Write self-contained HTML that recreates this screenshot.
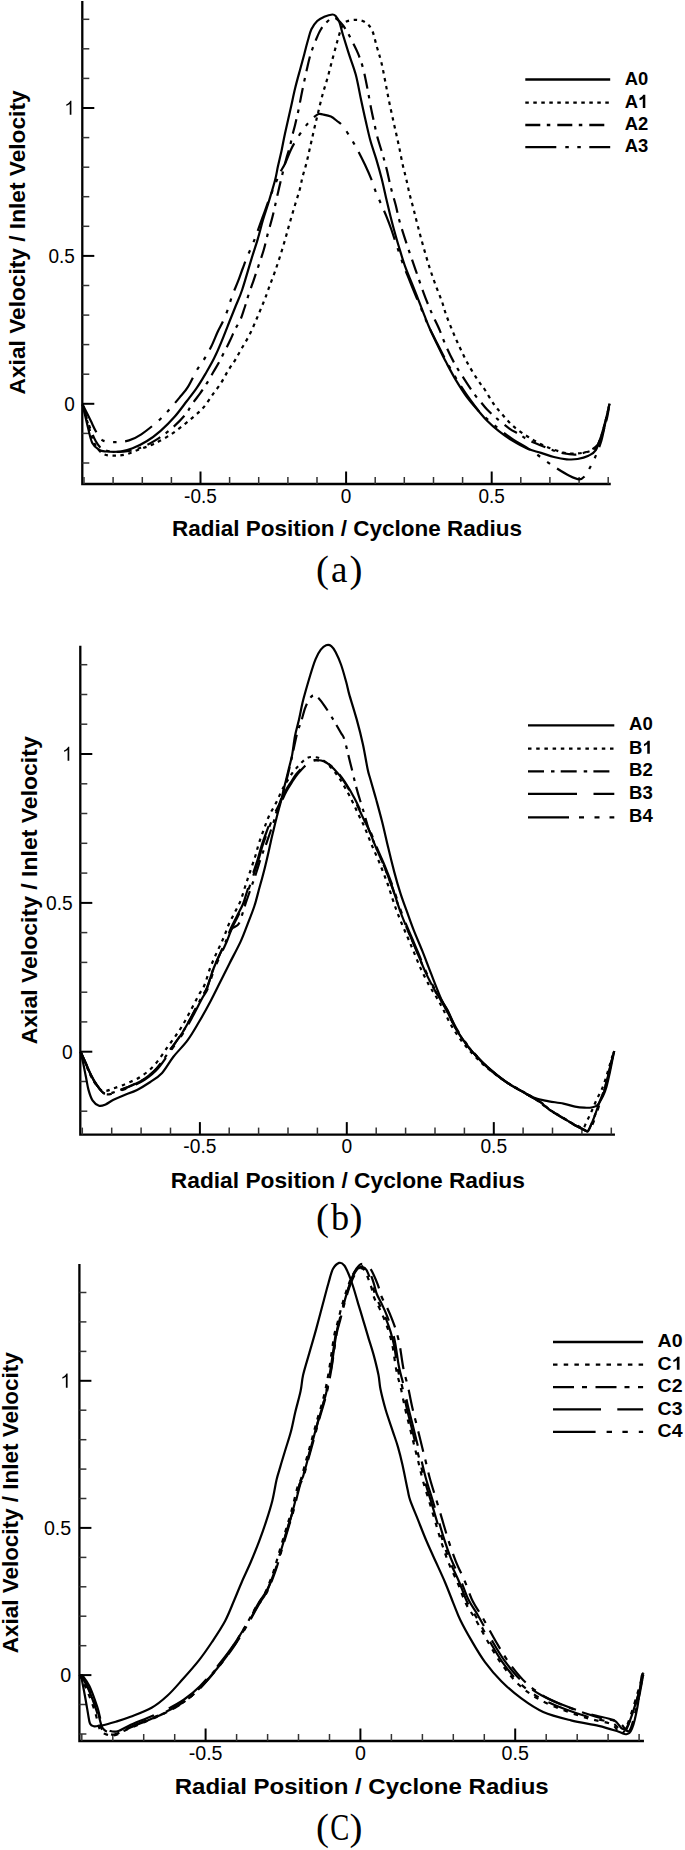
<!DOCTYPE html>
<html><head><meta charset="utf-8"><title>Axial velocity profiles</title>
<style>
html,body{margin:0;padding:0;background:#fff;}
body{width:685px;height:1850px;overflow:hidden;}
svg{display:block;}
</style></head><body>
<svg width="685" height="1850" viewBox="0 0 685 1850">
<rect width="685" height="1850" fill="#fff"/>
<path d="M82.3,2.2 L82.3,484.0 L609.6,484.0" fill="none" stroke="#000" stroke-width="2.3" stroke-linecap="square"/>
<line x1="82.3" y1="403.8" x2="94.3" y2="403.8" stroke="#000" stroke-width="2"/>
<line x1="82.3" y1="255.9" x2="94.3" y2="255.9" stroke="#000" stroke-width="2"/>
<line x1="82.3" y1="108.0" x2="94.3" y2="108.0" stroke="#000" stroke-width="2"/>
<line x1="82.3" y1="463.0" x2="89.3" y2="463.0" stroke="#333" stroke-width="1.5"/>
<line x1="82.3" y1="433.4" x2="89.3" y2="433.4" stroke="#333" stroke-width="1.5"/>
<line x1="82.3" y1="374.2" x2="89.3" y2="374.2" stroke="#333" stroke-width="1.5"/>
<line x1="82.3" y1="344.6" x2="89.3" y2="344.6" stroke="#333" stroke-width="1.5"/>
<line x1="82.3" y1="315.1" x2="89.3" y2="315.1" stroke="#333" stroke-width="1.5"/>
<line x1="82.3" y1="285.5" x2="89.3" y2="285.5" stroke="#333" stroke-width="1.5"/>
<line x1="82.3" y1="226.3" x2="89.3" y2="226.3" stroke="#333" stroke-width="1.5"/>
<line x1="82.3" y1="196.7" x2="89.3" y2="196.7" stroke="#333" stroke-width="1.5"/>
<line x1="82.3" y1="167.2" x2="89.3" y2="167.2" stroke="#333" stroke-width="1.5"/>
<line x1="82.3" y1="137.6" x2="89.3" y2="137.6" stroke="#333" stroke-width="1.5"/>
<line x1="82.3" y1="78.4" x2="89.3" y2="78.4" stroke="#333" stroke-width="1.5"/>
<line x1="82.3" y1="48.8" x2="89.3" y2="48.8" stroke="#333" stroke-width="1.5"/>
<line x1="82.3" y1="19.3" x2="89.3" y2="19.3" stroke="#333" stroke-width="1.5"/>
<line x1="200.5" y1="484.0" x2="200.5" y2="471.5" stroke="#000" stroke-width="2"/>
<line x1="346.1" y1="484.0" x2="346.1" y2="471.5" stroke="#000" stroke-width="2"/>
<line x1="491.7" y1="484.0" x2="491.7" y2="471.5" stroke="#000" stroke-width="2"/>
<line x1="84.0" y1="484.0" x2="84.0" y2="477.0" stroke="#333" stroke-width="1.5"/>
<line x1="113.1" y1="484.0" x2="113.1" y2="477.0" stroke="#333" stroke-width="1.5"/>
<line x1="142.3" y1="484.0" x2="142.3" y2="477.0" stroke="#333" stroke-width="1.5"/>
<line x1="171.4" y1="484.0" x2="171.4" y2="477.0" stroke="#333" stroke-width="1.5"/>
<line x1="229.6" y1="484.0" x2="229.6" y2="477.0" stroke="#333" stroke-width="1.5"/>
<line x1="258.7" y1="484.0" x2="258.7" y2="477.0" stroke="#333" stroke-width="1.5"/>
<line x1="287.9" y1="484.0" x2="287.9" y2="477.0" stroke="#333" stroke-width="1.5"/>
<line x1="317.0" y1="484.0" x2="317.0" y2="477.0" stroke="#333" stroke-width="1.5"/>
<line x1="375.2" y1="484.0" x2="375.2" y2="477.0" stroke="#333" stroke-width="1.5"/>
<line x1="404.3" y1="484.0" x2="404.3" y2="477.0" stroke="#333" stroke-width="1.5"/>
<line x1="433.5" y1="484.0" x2="433.5" y2="477.0" stroke="#333" stroke-width="1.5"/>
<line x1="462.6" y1="484.0" x2="462.6" y2="477.0" stroke="#333" stroke-width="1.5"/>
<line x1="520.8" y1="484.0" x2="520.8" y2="477.0" stroke="#333" stroke-width="1.5"/>
<line x1="549.9" y1="484.0" x2="549.9" y2="477.0" stroke="#333" stroke-width="1.5"/>
<line x1="579.1" y1="484.0" x2="579.1" y2="477.0" stroke="#333" stroke-width="1.5"/>
<line x1="608.2" y1="484.0" x2="608.2" y2="477.0" stroke="#333" stroke-width="1.5"/>
<text x="74.9" y="410.7" font-family='"Liberation Sans", sans-serif' font-size="19.6" text-anchor="end" transform="translate(74.9,0) scale(0.9700,1) translate(-74.9,0)">0</text>
<text x="74.9" y="262.8" font-family='"Liberation Sans", sans-serif' font-size="19.6" text-anchor="end" transform="translate(74.9,0) scale(0.9700,1) translate(-74.9,0)">0.5</text>
<path d="M763,0 H583 V1147 Q518,1085 412,1023 Q306,961 222,930 V1104 Q373,1175 486,1276 Q599,1377 646,1472 H763 Z" fill="#000" transform="translate(64.33,114.86) scale(0.00928,-0.00957)"/>
<text x="200.5" y="502.6" font-family='"Liberation Sans", sans-serif' font-size="19.6" text-anchor="middle" transform="translate(200.5,0) scale(0.9700,1) translate(-200.5,0)">-0.5</text>
<text x="346.1" y="502.6" font-family='"Liberation Sans", sans-serif' font-size="19.6" text-anchor="middle" transform="translate(346.1,0) scale(0.9700,1) translate(-346.1,0)">0</text>
<text x="491.7" y="502.6" font-family='"Liberation Sans", sans-serif' font-size="19.6" text-anchor="middle" transform="translate(491.7,0) scale(0.9700,1) translate(-491.7,0)">0.5</text>
<text x="347.0" y="536.2" font-family='"Liberation Sans", sans-serif' font-weight="bold" font-size="22.4" text-anchor="middle" textLength="350.0" lengthAdjust="spacingAndGlyphs">Radial Position / Cyclone Radius</text>
<text x="0" y="0" font-family='"Liberation Sans", sans-serif' font-weight="bold" font-size="22.4" text-anchor="middle" textLength="304.0" lengthAdjust="spacingAndGlyphs" transform="translate(25.0,242.4) rotate(-90)">Axial Velocity / Inlet Velocity</text>
<path d="M82.6,404.5 C83.5,408.3 86.3,420.9 87.9,427.3 C89.5,433.7 90.4,439.2 92.3,443.0 C94.2,446.8 97.0,448.6 99.3,450.0 C101.6,451.4 102.8,451.2 106.3,451.5 C109.8,451.8 115.9,452.0 120.3,451.5 C124.7,451.0 128.2,450.0 132.6,448.3 C137.0,446.6 141.9,444.2 146.6,441.3 C151.3,438.4 155.9,434.9 160.6,430.8 C165.3,426.7 170.2,421.8 174.6,416.8 C179.0,411.8 183.2,405.8 186.9,401.0 C190.6,396.2 193.5,392.6 196.6,388.1 C199.7,383.6 202.4,379.1 205.3,374.1 C208.2,369.1 211.5,363.6 214.1,358.3 C216.7,353.1 218.8,348.2 221.1,342.6 C223.4,337.1 225.8,330.9 228.1,325.0 C230.4,319.1 232.8,313.3 235.1,307.5 C237.4,301.7 239.4,298.1 242.1,290.0 C244.8,281.9 248.9,267.2 251.5,258.8 C254.1,250.4 255.7,246.0 257.6,239.6 C259.5,233.2 261.0,226.7 262.9,220.3 C264.8,213.9 267.0,207.7 269.0,201.0 C271.0,194.3 273.6,185.8 275.1,180.0 C276.6,174.2 276.9,170.9 278.0,166.1 C279.1,161.2 280.3,156.3 281.5,150.9 C282.7,145.5 283.5,140.2 285.0,133.4 C286.5,126.6 288.6,117.4 290.3,110.0 C292.0,102.6 293.4,95.5 295.0,88.8 C296.6,82.1 298.4,75.8 300.0,70.0 C301.6,64.2 303.1,58.7 304.4,53.7 C305.7,48.7 306.8,44.1 308.0,40.0 C309.2,35.9 309.9,32.4 311.4,29.2 C312.9,26.0 315.1,23.1 317.2,21.0 C319.3,18.9 321.7,17.9 324.2,16.8 C326.7,15.7 330.4,14.6 332.4,14.5 C334.4,14.4 334.8,15.1 336.0,16.4 C337.2,17.7 338.2,19.1 339.4,22.2 C340.6,25.3 341.4,29.8 343.0,35.0 C344.6,40.2 346.7,47.1 348.8,53.7 C350.9,60.3 353.8,67.2 355.8,74.8 C357.8,82.3 359.3,91.5 360.9,99.0 C362.5,106.5 363.9,113.1 365.5,120.0 C367.1,126.9 368.5,133.7 370.3,140.3 C372.1,146.9 374.5,153.2 376.4,159.6 C378.3,166.0 380.1,172.4 381.7,178.8 C383.3,185.2 384.7,191.9 386.1,198.1 C387.6,204.3 389.1,210.8 390.4,216.0 C391.7,221.2 392.4,223.9 393.8,229.0 C395.2,234.1 397.0,240.6 398.9,246.8 C400.8,253.0 402.8,260.0 405.0,266.1 C407.2,272.2 409.8,278.1 412.0,283.6 C414.2,289.1 416.1,294.1 418.2,299.3 C420.2,304.6 422.4,310.3 424.3,315.1 C426.2,319.9 427.3,323.0 429.5,328.0 C431.7,333.0 434.7,339.2 437.5,345.0 C440.3,350.8 443.2,356.8 446.3,362.6 C449.4,368.5 452.4,374.3 455.9,380.1 C459.4,385.9 463.6,392.6 467.3,397.6 C471.0,402.6 474.6,406.4 477.9,410.2 C481.2,414.0 483.6,417.2 487.1,420.7 C490.6,424.2 494.8,427.9 498.9,431.2 C503.0,434.5 507.4,437.5 512.0,440.4 C516.6,443.2 521.7,446.2 526.5,448.3 C531.3,450.4 536.4,451.4 541.0,452.9 C545.6,454.3 549.6,455.9 553.9,457.0 C558.2,458.1 562.6,459.0 566.6,459.3 C570.6,459.6 574.0,459.6 577.6,459.0 C581.2,458.4 585.5,457.2 588.5,455.7 C591.5,454.2 593.7,453.5 595.8,450.2 C597.9,446.9 599.6,440.8 601.3,435.6 C603.0,430.4 604.5,424.5 605.9,419.2 C607.3,413.9 608.9,406.3 609.5,403.7" fill="none" stroke="#000" stroke-width="2.2" stroke-linejoin="round"/>
<path d="M82.6,404.5 C83.5,407.8 86.3,418.1 88.0,424.0 C89.7,429.9 91.3,435.8 93.0,440.0 C94.7,444.2 96.1,446.6 98.0,449.0 C99.9,451.4 101.7,453.4 104.5,454.5 C107.3,455.6 111.5,455.7 115.0,455.7 C118.5,455.7 121.7,455.4 125.5,454.5 C129.3,453.6 133.1,451.8 137.8,450.0 C142.5,448.2 148.1,446.6 153.6,444.0 C159.1,441.4 165.8,437.7 171.1,434.3 C176.3,430.9 181.0,427.0 185.1,423.8 C189.2,420.6 192.5,417.7 195.6,415.0 C198.7,412.3 200.8,410.7 203.6,407.4 C206.4,404.1 209.4,399.2 212.3,395.1 C215.2,391.0 218.5,387.0 221.1,382.9 C223.7,378.8 225.8,374.4 228.1,370.6 C230.4,366.8 232.8,363.9 235.1,360.1 C237.4,356.3 239.6,352.2 242.1,347.8 C244.6,343.4 247.5,338.8 250.0,333.8 C252.5,328.8 255.0,322.6 257.0,318.0 C259.0,313.4 260.6,309.4 262.0,306.0 C263.4,302.6 264.2,300.9 265.5,297.4 C266.8,293.9 268.3,289.5 269.9,285.1 C271.5,280.7 273.4,276.1 275.1,271.1 C276.9,266.1 278.6,260.9 280.4,255.3 C282.1,249.8 284.0,243.4 285.6,237.8 C287.2,232.2 288.4,227.5 290.0,222.0 C291.6,216.5 293.4,210.3 295.0,205.0 C296.6,199.7 298.3,194.7 299.6,190.0 C300.9,185.3 301.5,180.8 302.6,176.6 C303.7,172.4 304.9,169.0 306.0,164.9 C307.1,160.8 308.0,156.3 309.0,152.0 C310.0,147.7 310.9,143.6 311.9,139.2 C312.9,134.8 313.9,130.2 315.0,125.5 C316.1,120.8 317.2,116.4 318.5,111.0 C319.8,105.6 321.4,98.7 323.0,93.0 C324.6,87.3 326.2,82.7 327.8,77.0 C329.4,71.3 330.9,64.8 332.5,59.0 C334.1,53.2 335.6,47.3 337.1,42.0 C338.7,36.7 340.2,30.4 341.8,27.0 C343.4,23.6 344.1,22.7 346.4,21.5 C348.7,20.3 352.7,19.8 355.8,19.9 C358.9,20.0 362.4,20.4 365.1,22.2 C367.8,23.9 370.2,26.3 372.1,30.4 C374.1,34.5 375.2,41.3 376.8,46.7 C378.4,52.1 379.9,56.4 381.5,63.0 C383.1,69.6 384.9,80.1 386.2,86.4 C387.4,92.7 388.0,96.1 389.0,101.0 C390.0,105.9 391.1,110.7 392.2,115.8 C393.3,120.9 394.5,126.2 395.7,131.5 C396.9,136.8 398.0,141.8 399.2,147.3 C400.4,152.9 401.5,159.6 402.7,164.8 C403.9,170.1 405.0,173.8 406.2,178.8 C407.4,183.8 408.4,189.4 409.7,194.6 C411.0,199.8 412.4,204.5 413.8,210.0 C415.2,215.5 416.6,221.4 418.2,227.5 C419.8,233.6 421.5,240.1 423.4,246.8 C425.3,253.5 427.6,261.4 429.6,267.8 C431.7,274.2 433.7,279.8 435.7,285.3 C437.7,290.9 440.0,296.1 441.8,301.1 C443.6,306.1 444.4,310.0 446.3,315.3 C448.2,320.6 451.0,327.3 453.3,332.8 C455.6,338.3 457.8,343.2 460.3,348.5 C462.8,353.8 465.3,359.0 468.2,364.3 C471.1,369.6 475.0,375.8 477.8,380.1 C480.6,384.4 482.4,386.0 485.0,390.0 C487.6,394.0 490.9,400.1 493.7,404.0 C496.4,407.9 498.9,410.4 501.5,413.5 C504.1,416.6 506.8,419.8 509.4,422.5 C512.0,425.2 514.1,427.1 517.3,429.5 C520.4,431.9 523.7,434.2 528.3,437.0 C532.9,439.8 538.9,443.4 544.7,446.0 C550.5,448.6 558.1,451.2 563.0,452.5 C567.9,453.8 569.9,453.7 573.9,453.6 C577.9,453.5 583.1,453.0 586.7,452.0 C590.4,451.0 593.4,450.0 595.8,447.5 C598.2,445.0 599.5,440.8 601.0,437.0 C602.5,433.2 603.2,429.8 604.5,425.0 C605.8,420.2 607.8,411.8 608.6,408.2 C609.4,404.6 609.4,404.4 609.5,403.7" fill="none" stroke="#000" stroke-width="2.2" stroke-linejoin="round" stroke-dasharray="3.5 4.5"/>
<path d="M82.6,404.5 C83.7,407.9 86.8,418.9 89.0,425.0 C91.2,431.1 93.5,437.3 95.8,441.3 C98.1,445.3 99.6,447.4 102.8,449.2 C106.0,450.9 110.6,451.5 115.0,451.8 C119.4,452.1 124.6,451.7 129.0,451.0 C133.4,450.3 136.9,449.2 141.3,447.4 C145.7,445.6 150.3,443.5 155.3,440.4 C160.3,437.3 166.1,433.2 171.1,429.0 C176.1,424.8 181.6,419.2 185.1,415.0 C188.6,410.8 189.7,407.5 192.2,403.9 C194.7,400.3 197.6,396.9 200.1,393.4 C202.6,389.9 204.9,386.4 207.1,382.9 C209.3,379.4 211.2,375.8 213.2,372.3 C215.2,368.8 217.4,365.3 219.3,361.8 C221.2,358.3 222.8,354.8 224.6,351.3 C226.4,347.8 228.2,344.5 229.9,340.8 C231.7,337.1 233.3,332.9 235.1,329.4 C236.8,325.9 238.8,323.4 240.4,319.8 C242.0,316.2 243.2,311.9 244.5,308.0 C245.8,304.1 246.6,300.9 248.0,296.5 C249.4,292.1 251.4,286.7 253.2,281.6 C254.9,276.5 256.8,271.1 258.5,265.8 C260.2,260.5 262.1,255.5 263.7,250.0 C265.3,244.5 266.6,238.1 268.1,232.6 C269.6,227.1 271.0,222.7 272.5,216.8 C274.0,211.0 275.4,204.0 276.9,197.5 C278.4,191.0 279.9,184.1 281.5,177.7 C283.1,171.3 284.8,164.1 286.2,159.0 C287.6,153.9 288.6,151.5 289.7,147.4 C290.8,143.3 291.7,138.2 292.6,134.5 C293.5,130.8 294.0,129.3 295.0,125.2 C296.0,121.1 297.3,115.5 298.5,110.0 C299.7,104.5 300.6,98.7 302.0,92.0 C303.4,85.3 305.2,76.5 306.7,70.0 C308.2,63.5 309.4,58.0 311.0,53.0 C312.6,48.0 314.4,43.5 316.0,39.7 C317.6,35.9 318.9,32.7 320.5,30.0 C322.1,27.3 323.2,25.5 325.4,23.4 C327.6,21.3 331.1,17.6 333.6,17.5 C336.1,17.4 338.5,20.4 340.6,22.5 C342.7,24.6 344.5,27.3 346.4,30.4 C348.3,33.5 350.1,37.1 352.0,41.0 C353.9,44.9 356.3,49.2 358.1,53.7 C359.9,58.2 361.4,62.0 363.0,68.0 C364.6,74.0 366.4,83.3 367.7,90.0 C369.0,96.7 369.9,102.7 371.0,108.0 C372.1,113.3 372.9,117.2 374.0,122.0 C375.1,126.8 375.9,131.4 377.3,136.8 C378.7,142.2 381.0,148.8 382.6,154.3 C384.2,159.9 385.4,164.3 386.9,170.1 C388.3,175.9 389.8,183.5 391.3,189.3 C392.8,195.1 394.4,200.0 395.7,205.1 C397.0,210.2 397.8,214.8 399.2,220.0 C400.6,225.2 402.2,230.1 404.2,236.3 C406.2,242.5 409.0,250.9 411.2,257.3 C413.4,263.7 415.3,269.0 417.3,274.8 C419.3,280.6 421.3,286.8 423.4,292.3 C425.4,297.9 427.8,303.8 429.6,308.1 C431.4,312.4 432.4,314.5 434.0,318.0 C435.6,321.5 437.2,324.5 439.3,329.3 C441.4,334.1 443.7,341.0 446.3,346.8 C448.9,352.6 452.1,359.1 455.0,364.3 C457.9,369.6 460.6,373.3 463.8,378.3 C467.0,383.3 471.5,390.2 474.3,394.1 C477.1,398.0 478.4,399.1 480.5,401.7 C482.6,404.3 484.6,407.0 487.1,409.6 C489.6,412.2 491.9,414.3 495.6,417.5 C499.3,420.7 505.6,425.9 509.4,428.6 C513.2,431.3 515.5,432.0 518.6,433.9 C521.7,435.8 524.0,437.8 527.8,439.8 C531.6,441.8 536.8,443.8 541.6,445.7 C546.4,447.6 552.3,450.1 556.7,451.5 C561.1,452.9 564.6,453.5 568.0,454.0 C571.4,454.5 573.6,455.0 577.0,454.5 C580.4,454.0 585.0,452.7 588.5,451.1 C592.0,449.5 595.3,447.9 597.7,444.7 C600.1,441.5 601.5,436.4 603.0,432.0 C604.5,427.6 605.9,422.7 607.0,418.0 C608.1,413.3 609.1,406.1 609.5,403.7" fill="none" stroke="#000" stroke-width="2.2" stroke-linejoin="round" stroke-dasharray="15 6.5 3.5 7"/>
<path d="M82.6,404.5 C83.9,407.1 88.2,415.6 90.5,420.3 C92.8,425.0 94.5,429.2 96.6,432.6 C98.6,436.0 99.7,438.8 102.8,440.4 C105.9,442.0 110.6,442.2 115.0,442.2 C119.4,442.2 124.6,441.7 129.0,440.4 C133.4,439.1 136.6,437.4 141.3,434.3 C146.0,431.2 152.7,425.8 157.1,422.0 C161.5,418.2 163.9,415.6 167.6,411.5 C171.3,407.4 176.1,401.7 179.5,397.6 C182.9,393.6 185.0,391.7 187.8,387.2 C190.7,382.7 193.7,375.6 196.6,370.6 C199.5,365.6 202.8,361.5 205.3,357.4 C207.8,353.3 209.4,350.2 211.5,346.0 C213.6,341.8 215.7,336.1 217.6,332.0 C219.5,327.9 221.2,325.3 222.9,321.5 C224.6,317.7 226.4,313.3 228.0,309.0 C229.6,304.7 230.5,300.3 232.2,295.6 C233.9,290.9 236.6,285.2 238.3,280.7 C240.1,276.2 241.2,272.4 242.7,268.5 C244.2,264.6 245.3,261.2 247.1,257.0 C248.8,252.8 251.2,248.1 253.2,243.0 C255.2,237.9 257.4,231.6 259.3,226.4 C261.2,221.2 262.7,216.9 264.5,212.0 C266.3,207.1 267.9,202.3 270.0,197.0 C272.1,191.7 275.2,184.2 276.9,180.0 C278.6,175.8 279.0,174.6 280.4,171.9 C281.8,169.2 283.2,167.4 285.0,163.7 C286.8,160.0 288.9,153.8 290.9,149.7 C292.8,145.6 294.6,142.7 296.7,139.2 C298.8,135.7 301.8,131.4 303.7,128.7 C305.6,126.0 306.8,124.6 308.4,122.8 C309.9,121.0 311.3,119.5 313.0,118.0 C314.7,116.5 316.7,114.6 318.4,114.0 C320.1,113.4 320.9,114.1 323.0,114.5 C325.1,114.9 328.6,115.5 330.9,116.6 C333.2,117.7 335.0,119.4 337.0,121.0 C339.0,122.6 340.8,123.4 343.1,126.3 C345.4,129.2 348.5,134.4 351.0,138.5 C353.5,142.6 355.7,146.4 358.0,150.8 C360.3,155.2 362.8,160.1 365.0,164.8 C367.2,169.5 369.4,174.4 371.2,178.8 C372.9,183.2 373.9,187.0 375.5,191.1 C377.1,195.2 379.0,199.3 380.8,203.4 C382.6,207.5 384.4,211.4 386.1,215.6 C387.8,219.8 389.3,223.6 391.0,228.5 C392.7,233.4 394.5,239.1 396.5,245.0 C398.5,250.9 400.8,257.9 403.0,264.0 C405.2,270.1 407.8,275.9 410.0,281.5 C412.2,287.1 414.3,292.2 416.5,297.5 C418.7,302.8 421.0,308.2 423.0,313.0 C425.0,317.8 426.1,320.8 428.5,326.0 C430.9,331.2 434.5,338.1 437.5,344.0 C440.5,349.9 443.3,355.7 446.5,361.5 C449.7,367.3 453.0,373.2 456.5,379.0 C460.0,384.8 463.6,390.5 467.5,396.0 C471.4,401.5 475.9,407.8 479.6,412.0 C483.4,416.2 486.4,418.4 490.0,421.5 C493.6,424.6 497.1,427.4 501.0,430.5 C504.9,433.6 509.5,437.2 513.7,440.0 C518.0,442.8 522.4,444.9 526.5,447.5 C530.6,450.1 533.8,452.3 538.4,455.5 C543.0,458.7 548.7,463.1 553.9,466.5 C559.1,469.9 565.1,473.7 569.4,475.8 C573.6,477.9 576.8,479.4 579.4,479.4 C582.0,479.4 583.5,477.5 585.0,476.0 C586.5,474.5 586.8,473.4 588.5,470.3 C590.2,467.2 592.9,462.4 595.0,457.5 C597.1,452.6 599.5,446.9 601.3,441.0 C603.0,435.1 604.1,428.2 605.5,422.0 C606.9,415.8 608.8,406.8 609.5,403.7" fill="none" stroke="#000" stroke-width="2.2" stroke-linejoin="round" stroke-dasharray="31 9 3.5 8.5 3.5 8.5"/>
<line x1="525.3" y1="79.5" x2="610.2" y2="79.5" stroke="#000" stroke-width="2.3"/>
<text x="624.7" y="84.7" font-family='"Liberation Sans", sans-serif' font-weight="bold" font-size="18.4" transform="translate(624.7,0) scale(1.0000,1) translate(-624.7,0)">A</text>
<text x="638.0" y="84.7" font-family='"Liberation Sans", sans-serif' font-weight="bold" font-size="18.4" transform="translate(638.0,0) scale(1.0000,1) translate(-638.0,0)">0</text>
<line x1="525.3" y1="102.7" x2="610.2" y2="102.7" stroke="#000" stroke-width="2.3" stroke-dasharray="3.5 4.5"/>
<text x="624.7" y="107.9" font-family='"Liberation Sans", sans-serif' font-weight="bold" font-size="18.4" transform="translate(624.7,0) scale(1.0000,1) translate(-624.7,0)">A</text>
<path d="M815,0 H534 V1059 Q380,915 171,846 V1101 Q281,1137 410,1237 Q539,1337 587,1466 H815 Z" fill="#000" transform="translate(637.99,107.90) scale(0.00898,-0.00898)"/>
<line x1="525.3" y1="125.0" x2="610.2" y2="125.0" stroke="#000" stroke-width="2.3" stroke-dasharray="15 6.5 3.5 7"/>
<text x="624.7" y="130.2" font-family='"Liberation Sans", sans-serif' font-weight="bold" font-size="18.4" transform="translate(624.7,0) scale(1.0000,1) translate(-624.7,0)">A</text>
<text x="638.0" y="130.2" font-family='"Liberation Sans", sans-serif' font-weight="bold" font-size="18.4" transform="translate(638.0,0) scale(1.0000,1) translate(-638.0,0)">2</text>
<line x1="525.3" y1="147.2" x2="610.2" y2="147.2" stroke="#000" stroke-width="2.3" stroke-dasharray="31 9 3.5 8.5 3.5 8.5"/>
<text x="624.7" y="152.4" font-family='"Liberation Sans", sans-serif' font-weight="bold" font-size="18.4" transform="translate(624.7,0) scale(1.0000,1) translate(-624.7,0)">A</text>
<text x="638.0" y="152.4" font-family='"Liberation Sans", sans-serif' font-weight="bold" font-size="18.4" transform="translate(638.0,0) scale(1.0000,1) translate(-638.0,0)">3</text>
<text x="0" y="0" font-family='"Liberation Serif", serif' font-size="37" transform="translate(315.90,581.60) scale(1.050,1)">(</text>
<text x="0" y="0" font-family='"Liberation Serif", serif' font-size="37" transform="translate(330.90,581.60) scale(1.000,1)">a</text>
<text x="0" y="0" font-family='"Liberation Serif", serif' font-size="37" transform="translate(349.45,581.60) scale(1.050,1)">)</text>
<path d="M80.3,647.0 L80.3,1134.6 L613.8,1134.6" fill="none" stroke="#000" stroke-width="2.3" stroke-linecap="square"/>
<line x1="80.3" y1="1051.7" x2="92.3" y2="1051.7" stroke="#000" stroke-width="2"/>
<line x1="80.3" y1="902.9" x2="92.3" y2="902.9" stroke="#000" stroke-width="2"/>
<line x1="80.3" y1="754.0" x2="92.3" y2="754.0" stroke="#000" stroke-width="2"/>
<line x1="80.3" y1="1111.2" x2="87.3" y2="1111.2" stroke="#333" stroke-width="1.5"/>
<line x1="80.3" y1="1081.5" x2="87.3" y2="1081.5" stroke="#333" stroke-width="1.5"/>
<line x1="80.3" y1="1021.9" x2="87.3" y2="1021.9" stroke="#333" stroke-width="1.5"/>
<line x1="80.3" y1="992.2" x2="87.3" y2="992.2" stroke="#333" stroke-width="1.5"/>
<line x1="80.3" y1="962.4" x2="87.3" y2="962.4" stroke="#333" stroke-width="1.5"/>
<line x1="80.3" y1="932.6" x2="87.3" y2="932.6" stroke="#333" stroke-width="1.5"/>
<line x1="80.3" y1="873.1" x2="87.3" y2="873.1" stroke="#333" stroke-width="1.5"/>
<line x1="80.3" y1="843.3" x2="87.3" y2="843.3" stroke="#333" stroke-width="1.5"/>
<line x1="80.3" y1="813.5" x2="87.3" y2="813.5" stroke="#333" stroke-width="1.5"/>
<line x1="80.3" y1="783.8" x2="87.3" y2="783.8" stroke="#333" stroke-width="1.5"/>
<line x1="80.3" y1="724.2" x2="87.3" y2="724.2" stroke="#333" stroke-width="1.5"/>
<line x1="80.3" y1="694.5" x2="87.3" y2="694.5" stroke="#333" stroke-width="1.5"/>
<line x1="80.3" y1="664.7" x2="87.3" y2="664.7" stroke="#333" stroke-width="1.5"/>
<line x1="199.9" y1="1134.6" x2="199.9" y2="1122.1" stroke="#000" stroke-width="2"/>
<line x1="346.8" y1="1134.6" x2="346.8" y2="1122.1" stroke="#000" stroke-width="2"/>
<line x1="493.8" y1="1134.6" x2="493.8" y2="1122.1" stroke="#000" stroke-width="2"/>
<line x1="82.3" y1="1134.6" x2="82.3" y2="1127.6" stroke="#333" stroke-width="1.5"/>
<line x1="111.7" y1="1134.6" x2="111.7" y2="1127.6" stroke="#333" stroke-width="1.5"/>
<line x1="141.1" y1="1134.6" x2="141.1" y2="1127.6" stroke="#333" stroke-width="1.5"/>
<line x1="170.5" y1="1134.6" x2="170.5" y2="1127.6" stroke="#333" stroke-width="1.5"/>
<line x1="229.2" y1="1134.6" x2="229.2" y2="1127.6" stroke="#333" stroke-width="1.5"/>
<line x1="258.6" y1="1134.6" x2="258.6" y2="1127.6" stroke="#333" stroke-width="1.5"/>
<line x1="288.0" y1="1134.6" x2="288.0" y2="1127.6" stroke="#333" stroke-width="1.5"/>
<line x1="317.4" y1="1134.6" x2="317.4" y2="1127.6" stroke="#333" stroke-width="1.5"/>
<line x1="376.2" y1="1134.6" x2="376.2" y2="1127.6" stroke="#333" stroke-width="1.5"/>
<line x1="405.6" y1="1134.6" x2="405.6" y2="1127.6" stroke="#333" stroke-width="1.5"/>
<line x1="435.0" y1="1134.6" x2="435.0" y2="1127.6" stroke="#333" stroke-width="1.5"/>
<line x1="464.4" y1="1134.6" x2="464.4" y2="1127.6" stroke="#333" stroke-width="1.5"/>
<line x1="523.1" y1="1134.6" x2="523.1" y2="1127.6" stroke="#333" stroke-width="1.5"/>
<line x1="552.5" y1="1134.6" x2="552.5" y2="1127.6" stroke="#333" stroke-width="1.5"/>
<line x1="581.9" y1="1134.6" x2="581.9" y2="1127.6" stroke="#333" stroke-width="1.5"/>
<line x1="611.3" y1="1134.6" x2="611.3" y2="1127.6" stroke="#333" stroke-width="1.5"/>
<text x="72.8" y="1058.6" font-family='"Liberation Sans", sans-serif' font-size="19.6" text-anchor="end" transform="translate(72.8,0) scale(0.9800,1) translate(-72.8,0)">0</text>
<text x="72.8" y="909.7" font-family='"Liberation Sans", sans-serif' font-size="19.6" text-anchor="end" transform="translate(72.8,0) scale(0.9800,1) translate(-72.8,0)">0.5</text>
<path d="M763,0 H583 V1147 Q518,1085 412,1023 Q306,961 222,930 V1104 Q373,1175 486,1276 Q599,1377 646,1472 H763 Z" fill="#000" transform="translate(62.12,760.86) scale(0.00938,-0.00957)"/>
<text x="199.9" y="1153.3" font-family='"Liberation Sans", sans-serif' font-size="19.6" text-anchor="middle" transform="translate(199.9,0) scale(0.9800,1) translate(-199.9,0)">-0.5</text>
<text x="346.8" y="1153.3" font-family='"Liberation Sans", sans-serif' font-size="19.6" text-anchor="middle" transform="translate(346.8,0) scale(0.9800,1) translate(-346.8,0)">0</text>
<text x="493.8" y="1153.3" font-family='"Liberation Sans", sans-serif' font-size="19.6" text-anchor="middle" transform="translate(493.8,0) scale(0.9800,1) translate(-493.8,0)">0.5</text>
<text x="347.8" y="1187.5" font-family='"Liberation Sans", sans-serif' font-weight="bold" font-size="22.4" text-anchor="middle" textLength="354.0" lengthAdjust="spacingAndGlyphs">Radial Position / Cyclone Radius</text>
<text x="0" y="0" font-family='"Liberation Sans", sans-serif' font-weight="bold" font-size="22.4" text-anchor="middle" textLength="308.0" lengthAdjust="spacingAndGlyphs" transform="translate(36.5,890.3) rotate(-90)">Axial Velocity / Inlet Velocity</text>
<path d="M80.6,1051.8 C81.0,1053.8 82.4,1059.5 83.3,1063.7 C84.2,1067.9 85.0,1072.4 85.9,1076.8 C86.8,1081.2 87.4,1086.0 88.5,1089.9 C89.6,1093.8 90.8,1097.8 92.5,1100.4 C94.2,1103.0 96.8,1105.0 99.0,1105.7 C101.2,1106.4 103.2,1105.4 105.6,1104.4 C108.0,1103.4 110.4,1101.3 113.5,1099.8 C116.6,1098.3 120.1,1096.8 124.0,1095.2 C127.9,1093.6 132.7,1092.1 137.1,1089.9 C141.5,1087.7 146.1,1084.8 150.3,1082.0 C154.5,1079.2 158.2,1077.1 162.1,1072.9 C165.9,1068.7 169.2,1062.2 173.4,1056.8 C177.6,1051.4 183.2,1046.2 187.5,1040.4 C191.8,1034.6 195.2,1028.4 199.1,1021.8 C203.0,1015.2 207.3,1007.3 210.8,1000.7 C214.3,994.1 217.1,988.2 220.2,982.0 C223.3,975.8 226.1,970.1 229.5,963.4 C232.9,956.7 237.6,948.1 240.6,941.6 C243.6,935.1 245.3,930.0 247.6,924.1 C249.9,918.2 252.4,912.1 254.4,906.0 C256.4,899.9 258.1,892.4 259.5,887.5 C260.9,882.6 261.5,880.5 262.5,876.8 C263.5,873.1 264.6,869.0 265.5,865.1 C266.4,861.2 267.3,857.3 268.2,853.4 C269.1,849.5 269.9,845.8 270.8,841.7 C271.7,837.6 272.8,833.3 273.8,829.0 C274.8,824.7 275.9,820.3 277.0,816.0 C278.1,811.7 279.4,807.2 280.5,803.0 C281.6,798.8 282.5,794.5 283.4,790.8 C284.3,787.1 284.9,784.5 285.8,780.9 C286.7,777.3 287.6,773.6 288.7,769.2 C289.8,764.8 291.1,760.1 292.2,754.6 C293.2,749.1 293.9,741.8 295.0,736.0 C296.1,730.2 297.6,725.7 299.0,719.6 C300.4,713.5 301.4,707.0 303.3,699.6 C305.2,692.2 308.3,681.7 310.3,675.0 C312.3,668.3 313.8,663.5 315.5,659.3 C317.2,655.1 319.0,651.9 320.8,649.6 C322.6,647.3 324.4,645.9 326.1,645.3 C327.9,644.7 329.7,644.9 331.3,646.1 C332.9,647.3 334.1,649.2 335.7,652.3 C337.3,655.4 339.2,659.5 341.0,664.5 C342.8,669.5 344.8,677.0 346.2,682.0 C347.6,687.0 347.6,688.4 349.3,694.6 C351.1,700.8 354.4,711.1 356.7,719.4 C359.0,727.7 361.1,735.9 362.9,744.2 C364.7,752.5 366.4,763.2 367.6,769.0 C368.8,774.8 368.9,774.1 370.3,779.0 C371.7,783.9 373.9,791.5 375.9,798.5 C377.8,805.5 379.9,813.1 382.0,821.3 C384.1,829.5 386.1,839.1 388.2,847.6 C390.2,856.1 392.3,864.5 394.3,872.1 C396.3,879.7 398.3,886.7 400.4,893.1 C402.4,899.5 404.4,904.6 406.6,910.7 C408.8,916.8 411.0,923.2 413.6,929.9 C416.2,936.6 419.4,943.6 422.3,950.9 C425.2,958.2 427.9,965.5 431.1,973.7 C434.3,981.9 438.9,994.0 441.6,1000.0 C444.3,1006.0 445.1,1005.2 447.5,1010.0 C449.9,1014.8 452.7,1022.8 455.8,1028.5 C458.9,1034.2 462.8,1039.6 466.3,1044.3 C469.8,1049.0 473.3,1052.8 476.8,1056.6 C480.3,1060.4 483.8,1063.9 487.3,1067.1 C490.8,1070.3 494.0,1072.9 497.8,1075.8 C501.6,1078.7 506.0,1082.0 510.1,1084.6 C514.2,1087.2 518.5,1089.5 522.3,1091.6 C526.1,1093.7 529.1,1095.7 532.9,1097.2 C536.7,1098.7 540.0,1099.5 545.1,1100.6 C550.2,1101.7 558.4,1102.6 563.4,1103.6 C568.4,1104.6 571.5,1105.9 575.0,1106.6 C578.5,1107.3 581.5,1107.6 584.4,1107.7 C587.3,1107.8 590.4,1107.7 592.6,1107.2 C594.8,1106.7 596.1,1106.7 597.8,1104.8 C599.5,1102.9 601.5,1099.1 603.0,1096.1 C604.5,1093.1 605.4,1090.6 606.5,1086.7 C607.6,1082.8 608.8,1077.2 609.8,1072.7 C610.8,1068.2 611.7,1063.5 612.4,1059.9 C613.1,1056.3 613.9,1052.6 614.2,1051.1" fill="none" stroke="#000" stroke-width="2.2" stroke-linejoin="round"/>
<path d="M80.6,1051.8 C81.4,1053.7 83.7,1059.3 85.3,1063.0 C86.8,1066.7 88.4,1070.8 89.9,1074.1 C91.5,1077.3 92.8,1080.0 94.6,1082.5 C96.4,1085.1 98.7,1088.2 100.5,1089.6 C102.3,1091.0 103.7,1091.0 105.7,1090.9 C107.7,1090.8 109.7,1089.8 112.3,1088.9 C114.9,1088.0 118.4,1086.8 121.5,1085.6 C124.6,1084.4 127.4,1083.2 130.7,1081.7 C134.0,1080.2 137.2,1079.2 141.2,1076.4 C145.2,1073.6 150.0,1070.2 154.6,1065.0 C159.2,1059.8 164.3,1051.5 168.6,1045.5 C172.9,1039.5 176.8,1034.5 180.3,1029.0 C183.8,1023.5 186.5,1018.2 189.6,1012.5 C192.7,1006.8 196.5,999.1 199.0,994.5 C201.5,989.9 202.6,989.6 204.5,985.0 C206.4,980.4 208.4,972.5 210.5,967.0 C212.6,961.5 214.8,956.8 217.0,952.0 C219.2,947.2 221.6,942.5 223.5,938.0 C225.4,933.5 226.7,929.2 228.5,925.0 C230.3,920.8 232.5,917.0 234.5,913.0 C236.5,909.0 238.8,905.3 240.5,901.0 C242.2,896.7 243.6,891.3 245.0,887.0 C246.4,882.7 247.3,880.0 249.0,875.0 C250.7,870.0 253.3,862.3 255.0,857.0 C256.7,851.7 257.5,847.7 259.0,843.0 C260.5,838.3 262.3,833.5 264.0,829.0 C265.7,824.5 266.9,820.5 269.0,816.0 C271.1,811.5 274.2,806.7 276.5,802.0 C278.8,797.3 281.0,791.8 283.0,788.0 C285.0,784.2 286.8,781.8 288.5,779.0 C290.2,776.2 291.9,773.6 293.5,771.5 C295.1,769.4 296.4,768.1 297.9,766.5 C299.4,764.9 300.9,763.2 302.4,761.8 C303.9,760.4 305.4,758.8 307.0,758.0 C308.6,757.2 310.1,756.9 312.3,757.0 C314.5,757.1 317.4,757.1 320.3,758.6 C323.2,760.1 326.3,762.7 329.5,766.0 C332.7,769.3 336.2,773.5 339.5,778.5 C342.8,783.5 346.2,789.6 349.5,795.8 C352.8,802.0 356.5,810.5 359.0,815.7 C361.5,820.9 362.4,822.2 364.5,827.0 C366.6,831.8 369.0,838.5 371.5,844.5 C374.0,850.5 376.9,856.5 379.5,862.9 C382.1,869.3 385.4,877.9 387.3,883.0 C389.2,888.1 389.4,889.2 390.8,893.5 C392.2,897.8 394.2,904.1 396.0,909.0 C397.8,913.9 399.6,918.3 401.5,923.0 C403.4,927.7 405.6,932.5 407.5,937.0 C409.4,941.5 410.8,944.8 413.0,950.0 C415.2,955.2 417.8,962.2 420.5,968.1 C423.2,974.0 426.7,980.8 429.3,985.6 C431.9,990.4 434.1,993.3 436.3,997.0 C438.5,1000.7 440.0,1003.2 442.5,1008.0 C445.0,1012.8 448.1,1020.0 451.3,1025.5 C454.5,1031.0 458.3,1036.6 461.8,1041.3 C465.3,1046.0 468.8,1049.8 472.3,1053.6 C475.8,1057.4 479.3,1060.9 482.8,1064.1 C486.3,1067.3 489.5,1069.9 493.3,1072.8 C497.1,1075.7 501.5,1079.0 505.6,1081.6 C509.7,1084.2 514.0,1086.4 517.8,1088.6 C521.6,1090.8 525.4,1093.0 528.4,1094.7 C531.4,1096.4 532.4,1096.7 535.5,1098.9 C538.6,1101.2 543.3,1105.5 547.2,1108.2 C551.1,1110.9 555.0,1112.9 558.9,1115.2 C562.8,1117.5 567.0,1120.3 570.5,1122.3 C574.0,1124.2 577.8,1125.9 579.9,1126.9 C582.0,1127.9 582.2,1129.1 583.4,1128.1 C584.6,1127.1 585.6,1123.7 586.9,1121.1 C588.2,1118.5 589.5,1115.9 591.1,1112.4 C592.7,1108.9 594.6,1104.1 596.5,1100.0 C598.4,1095.9 600.7,1092.1 602.5,1087.7 C604.3,1083.2 605.9,1077.9 607.3,1073.2 C608.8,1068.6 610.2,1063.4 611.3,1059.7 C612.5,1056.0 613.7,1052.5 614.2,1051.1" fill="none" stroke="#000" stroke-width="2.2" stroke-linejoin="round" stroke-dasharray="3.5 4.7"/>
<path d="M80.6,1051.8 C81.5,1053.8 84.2,1059.8 85.9,1063.7 C87.7,1067.7 89.3,1072.0 91.1,1075.5 C92.8,1079.0 94.4,1081.9 96.4,1084.7 C98.4,1087.5 101.0,1091.1 103.0,1092.6 C105.0,1094.1 106.2,1094.0 108.2,1093.9 C110.2,1093.8 112.2,1092.8 114.8,1091.9 C117.4,1091.0 120.9,1089.8 124.0,1088.6 C127.1,1087.4 129.9,1086.2 133.2,1084.7 C136.5,1083.2 139.7,1082.2 143.7,1079.4 C147.7,1076.6 152.5,1073.2 157.1,1068.0 C161.7,1062.8 166.8,1054.5 171.1,1048.5 C175.4,1042.5 179.3,1037.5 182.8,1032.0 C186.3,1026.5 189.0,1021.2 192.1,1015.5 C195.2,1009.8 199.0,1002.1 201.5,997.5 C204.0,992.9 205.1,992.6 207.0,988.0 C208.9,983.4 210.9,975.5 213.0,970.0 C215.1,964.5 217.3,959.8 219.5,955.0 C221.7,950.2 224.0,945.3 226.0,941.0 C228.0,936.7 229.4,931.9 231.5,929.0 C233.6,926.1 236.6,927.7 238.8,923.7 C241.1,919.8 243.0,911.2 245.0,905.3 C247.0,899.3 249.1,893.5 251.0,888.0 C252.9,882.5 254.7,877.4 256.5,872.0 C258.3,866.6 259.9,860.6 261.6,855.8 C263.3,851.0 264.8,847.8 266.5,843.0 C268.2,838.2 270.2,832.5 272.0,827.0 C273.8,821.5 275.8,815.2 277.5,810.0 C279.2,804.8 280.7,800.3 282.0,796.0 C283.3,791.7 284.4,788.0 285.5,784.0 C286.6,780.0 287.5,776.2 288.5,772.0 C289.5,767.8 290.5,763.5 291.5,759.0 C292.5,754.5 293.5,749.5 294.5,745.0 C295.5,740.5 296.4,735.9 297.5,732.0 C298.6,728.1 299.8,725.7 301.1,721.7 C302.4,717.7 303.8,711.7 305.2,707.9 C306.6,704.1 308.1,701.1 309.5,699.0 C310.9,696.9 312.1,695.5 313.5,695.2 C314.9,695.0 316.2,695.7 318.0,697.5 C319.8,699.3 321.9,702.0 324.5,705.8 C327.1,709.5 330.8,715.5 333.5,720.0 C336.2,724.5 339.2,729.8 341.0,733.0 C342.8,736.2 342.9,734.9 344.3,739.2 C345.7,743.6 347.9,753.3 349.3,759.1 C350.8,764.9 351.8,769.0 353.0,774.0 C354.2,779.0 355.4,784.3 356.7,788.9 C357.9,793.5 359.2,797.4 360.5,801.5 C361.8,805.6 362.8,809.0 364.2,813.7 C365.6,818.5 367.0,824.4 369.0,830.0 C371.0,835.6 373.5,841.5 376.0,847.5 C378.5,853.5 381.4,859.5 384.0,865.9 C386.6,872.3 389.9,880.9 391.8,886.0 C393.7,891.1 393.9,892.2 395.3,896.5 C396.8,900.8 398.7,907.1 400.5,912.0 C402.3,916.9 404.1,921.3 406.0,926.0 C407.9,930.7 410.1,935.5 412.0,940.0 C413.9,944.5 415.3,947.8 417.5,953.0 C419.7,958.2 422.3,965.2 425.0,971.1 C427.7,977.0 431.2,983.8 433.8,988.6 C436.4,993.4 438.6,996.3 440.8,1000.0 C443.0,1003.7 444.5,1006.2 447.0,1011.0 C449.5,1015.8 452.6,1023.0 455.8,1028.5 C459.0,1034.0 462.8,1039.6 466.3,1044.3 C469.8,1049.0 473.3,1052.8 476.8,1056.6 C480.3,1060.4 483.8,1063.9 487.3,1067.1 C490.8,1070.3 494.0,1072.9 497.8,1075.8 C501.6,1078.7 506.0,1082.0 510.1,1084.6 C514.2,1087.2 518.5,1089.4 522.3,1091.6 C526.1,1093.8 529.9,1096.0 532.9,1097.7 C535.9,1099.4 536.9,1099.7 540.0,1101.9 C543.1,1104.2 547.8,1108.5 551.7,1111.2 C555.6,1113.9 559.5,1115.9 563.4,1118.2 C567.3,1120.5 571.5,1123.3 575.0,1125.3 C578.5,1127.2 582.2,1128.9 584.4,1129.9 C586.5,1130.9 586.7,1132.1 587.9,1131.1 C589.1,1130.1 590.2,1126.8 591.4,1124.1 C592.6,1121.4 593.6,1118.7 595.0,1115.0 C596.4,1111.3 597.9,1106.3 599.5,1102.0 C601.1,1097.7 603.0,1093.7 604.5,1089.0 C606.0,1084.3 607.3,1078.8 608.5,1074.0 C609.7,1069.2 610.8,1063.8 611.8,1060.0 C612.8,1056.2 613.8,1052.6 614.2,1051.1" fill="none" stroke="#000" stroke-width="2.2" stroke-linejoin="round" stroke-dasharray="16 7 3.5 6.2"/>
<path d="M80.6,1051.8 C81.5,1053.8 84.2,1059.8 85.9,1063.7 C87.7,1067.7 89.3,1072.0 91.1,1075.5 C92.8,1079.0 94.4,1081.9 96.4,1084.7 C98.4,1087.5 101.0,1091.1 103.0,1092.6 C105.0,1094.1 106.2,1094.0 108.2,1093.9 C110.2,1093.8 112.2,1092.8 114.8,1091.9 C117.4,1091.0 120.9,1089.8 124.0,1088.6 C127.1,1087.4 129.9,1086.2 133.2,1084.7 C136.5,1083.2 139.7,1082.2 143.7,1079.4 C147.7,1076.6 152.5,1073.2 157.1,1068.0 C161.7,1062.8 166.8,1054.5 171.1,1048.5 C175.4,1042.5 179.3,1037.5 182.8,1032.0 C186.3,1026.5 189.0,1021.2 192.1,1015.5 C195.2,1009.8 199.0,1002.1 201.5,997.5 C204.0,992.9 205.1,992.6 207.0,988.0 C208.9,983.4 210.9,975.5 213.0,970.0 C215.1,964.5 217.3,959.8 219.5,955.0 C221.7,950.2 224.1,945.5 226.0,941.0 C227.9,936.5 229.2,932.2 231.0,928.0 C232.8,923.8 235.0,920.0 237.0,916.0 C239.0,912.0 241.2,908.3 243.0,904.0 C244.8,899.7 246.1,894.3 247.5,890.0 C248.9,885.7 249.8,883.0 251.5,878.0 C253.2,873.0 255.8,865.3 257.5,860.0 C259.2,854.7 260.0,850.7 261.5,846.0 C263.0,841.3 264.8,836.5 266.5,832.0 C268.2,827.5 269.4,823.5 271.5,819.0 C273.6,814.5 276.7,809.7 279.0,805.0 C281.3,800.3 283.5,794.8 285.5,791.0 C287.5,787.2 289.2,784.8 291.0,782.0 C292.8,779.2 294.4,776.6 296.0,774.5 C297.6,772.4 298.9,771.1 300.4,769.5 C301.9,767.9 303.4,766.2 305.0,764.8 C306.6,763.4 308.2,761.8 310.0,761.0 C311.8,760.2 313.4,759.9 315.8,760.0 C318.2,760.1 321.5,760.1 324.5,761.6 C327.5,763.1 330.8,765.7 334.0,769.0 C337.2,772.3 340.7,776.5 344.0,781.5 C347.3,786.5 350.8,792.6 354.0,798.8 C357.2,805.0 361.0,813.5 363.5,818.7 C366.0,823.9 366.9,825.2 369.0,830.0 C371.1,834.8 373.5,841.5 376.0,847.5 C378.5,853.5 381.4,859.5 384.0,865.9 C386.6,872.3 389.9,880.9 391.8,886.0 C393.7,891.1 393.9,892.2 395.3,896.5 C396.8,900.8 398.7,907.1 400.5,912.0 C402.3,916.9 404.1,921.3 406.0,926.0 C407.9,930.7 410.1,935.5 412.0,940.0 C413.9,944.5 415.3,947.8 417.5,953.0 C419.7,958.2 422.3,965.2 425.0,971.1 C427.7,977.0 431.2,983.8 433.8,988.6 C436.4,993.4 438.6,996.3 440.8,1000.0 C443.0,1003.7 444.5,1006.2 447.0,1011.0 C449.5,1015.8 452.6,1023.0 455.8,1028.5 C459.0,1034.0 462.8,1039.6 466.3,1044.3 C469.8,1049.0 473.3,1052.8 476.8,1056.6 C480.3,1060.4 483.8,1063.9 487.3,1067.1 C490.8,1070.3 494.0,1072.9 497.8,1075.8 C501.6,1078.7 506.0,1082.0 510.1,1084.6 C514.2,1087.2 518.5,1089.4 522.3,1091.6 C526.1,1093.8 529.9,1096.0 532.9,1097.7 C535.9,1099.4 536.9,1099.7 540.0,1101.9 C543.1,1104.2 547.8,1108.5 551.7,1111.2 C555.6,1113.9 559.5,1115.9 563.4,1118.2 C567.3,1120.5 571.5,1123.3 575.0,1125.3 C578.5,1127.2 582.2,1128.9 584.4,1129.9 C586.5,1130.9 586.7,1132.1 587.9,1131.1 C589.1,1130.1 590.2,1126.8 591.4,1124.1 C592.6,1121.4 593.6,1118.7 595.0,1115.0 C596.4,1111.3 597.9,1106.3 599.5,1102.0 C601.1,1097.7 603.0,1093.7 604.5,1089.0 C606.0,1084.3 607.3,1078.8 608.5,1074.0 C609.7,1069.2 610.8,1063.8 611.8,1060.0 C612.8,1056.2 613.8,1052.6 614.2,1051.1" fill="none" stroke="#000" stroke-width="2.2" stroke-linejoin="round" stroke-dasharray="49 16.5"/>
<path d="M80.6,1051.8 C81.5,1053.8 84.3,1059.8 86.1,1063.8 C87.9,1067.8 89.7,1072.2 91.5,1075.7 C93.3,1079.3 94.9,1082.2 97.0,1085.1 C99.0,1088.0 101.8,1091.5 103.8,1093.1 C105.8,1094.7 107.0,1094.5 109.0,1094.4 C111.0,1094.3 113.0,1093.3 115.6,1092.4 C118.2,1091.5 121.7,1090.3 124.8,1089.1 C127.9,1087.9 130.7,1086.7 134.0,1085.2 C137.3,1083.7 140.5,1082.7 144.5,1079.9 C148.5,1077.1 153.3,1073.7 157.9,1068.5 C162.5,1063.3 167.6,1055.0 171.9,1049.0 C176.2,1043.0 180.1,1038.0 183.6,1032.5 C187.1,1027.0 189.8,1021.8 192.9,1016.0 C196.0,1010.2 199.8,1002.6 202.3,998.0 C204.8,993.4 205.9,993.1 207.8,988.5 C209.7,983.9 211.7,976.0 213.8,970.5 C215.9,965.0 218.1,960.3 220.3,955.5 C222.5,950.7 224.9,946.0 226.8,941.5 C228.7,937.0 230.0,932.7 231.8,928.5 C233.6,924.3 235.8,920.5 237.8,916.5 C239.8,912.5 242.1,908.8 243.8,904.5 C245.6,900.2 246.9,894.8 248.3,890.5 C249.7,886.2 250.6,883.5 252.3,878.5 C254.0,873.5 256.6,865.8 258.3,860.5 C260.0,855.2 260.8,851.2 262.3,846.5 C263.8,841.8 265.6,837.0 267.3,832.5 C269.0,828.0 270.2,824.0 272.3,819.5 C274.4,815.0 277.5,810.2 279.8,805.5 C282.1,800.8 284.3,795.3 286.3,791.5 C288.3,787.7 290.1,785.2 291.8,782.5 C293.6,779.8 295.2,777.1 296.8,775.0 C298.4,772.9 299.7,771.6 301.2,770.0 C302.7,768.4 304.2,766.7 305.8,765.3 C307.4,763.9 309.0,762.3 310.9,761.5 C312.7,760.7 314.3,760.4 316.7,760.5 C319.1,760.6 322.4,760.6 325.5,762.1 C328.5,763.6 331.7,766.2 335.0,769.5 C338.3,772.8 341.7,777.0 345.0,782.0 C348.3,787.0 351.8,793.1 355.0,799.3 C358.2,805.5 362.0,814.0 364.5,819.2 C367.0,824.4 367.9,825.7 370.0,830.5 C372.1,835.3 374.5,842.0 377.0,848.0 C379.5,854.0 382.4,860.0 385.0,866.4 C387.6,872.8 390.9,881.4 392.8,886.5 C394.7,891.6 394.9,892.7 396.3,897.0 C397.8,901.3 399.7,907.6 401.5,912.5 C403.3,917.4 405.1,921.8 407.0,926.5 C408.9,931.2 411.1,936.0 413.0,940.5 C414.9,945.0 416.3,948.3 418.5,953.5 C420.7,958.7 423.3,965.7 426.0,971.6 C428.7,977.5 432.2,984.3 434.8,989.1 C437.4,993.9 439.6,996.8 441.8,1000.5 C444.0,1004.2 445.5,1006.8 448.0,1011.5 C450.5,1016.2 453.6,1023.5 456.8,1029.0 C460.0,1034.5 463.8,1040.1 467.3,1044.8 C470.8,1049.5 474.3,1053.3 477.8,1057.1 C481.3,1060.9 484.8,1064.4 488.3,1067.6 C491.8,1070.8 495.0,1073.4 498.8,1076.3 C502.6,1079.2 507.0,1082.5 511.1,1085.1 C515.2,1087.7 519.5,1089.9 523.3,1092.1 C527.1,1094.3 530.9,1096.5 533.9,1098.2 C536.9,1099.9 537.9,1100.2 541.0,1102.4 C544.1,1104.7 548.8,1109.0 552.7,1111.7 C556.6,1114.4 560.5,1116.4 564.4,1118.7 C568.3,1121.0 572.5,1123.8 576.0,1125.8 C579.5,1127.8 583.2,1129.4 585.4,1130.4 C587.5,1131.4 587.7,1132.6 588.9,1131.6 C590.1,1130.6 591.2,1127.3 592.4,1124.6 C593.6,1121.9 594.6,1119.1 595.9,1115.4 C597.2,1111.7 598.7,1106.7 600.2,1102.3 C601.7,1098.0 603.5,1093.9 604.9,1089.2 C606.4,1084.5 607.6,1079.0 608.8,1074.1 C609.9,1069.3 611.0,1063.9 611.9,1060.1 C612.8,1056.2 613.8,1052.6 614.2,1051.1" fill="none" stroke="#000" stroke-width="2.2" stroke-linejoin="round" stroke-dasharray="41 10 5 10.5 5 10"/>
<line x1="528.0" y1="725.3" x2="614.3" y2="725.3" stroke="#000" stroke-width="2.3"/>
<text x="629.0" y="730.5" font-family='"Liberation Sans", sans-serif' font-weight="bold" font-size="18.4" transform="translate(629.0,0) scale(1.0090,1) translate(-629.0,0)">A</text>
<text x="642.4" y="730.5" font-family='"Liberation Sans", sans-serif' font-weight="bold" font-size="18.4" transform="translate(642.4,0) scale(1.0090,1) translate(-642.4,0)">0</text>
<line x1="528.0" y1="748.6" x2="614.3" y2="748.6" stroke="#000" stroke-width="2.3" stroke-dasharray="3.5 4.7"/>
<text x="629.0" y="753.8" font-family='"Liberation Sans", sans-serif' font-weight="bold" font-size="18.4" transform="translate(629.0,0) scale(1.0090,1) translate(-629.0,0)">B</text>
<path d="M815,0 H534 V1059 Q380,915 171,846 V1101 Q281,1137 410,1237 Q539,1337 587,1466 H815 Z" fill="#000" transform="translate(642.41,753.80) scale(0.00907,-0.00898)"/>
<line x1="528.0" y1="771.3" x2="614.3" y2="771.3" stroke="#000" stroke-width="2.3" stroke-dasharray="16 7 3.5 6.2"/>
<text x="629.0" y="776.5" font-family='"Liberation Sans", sans-serif' font-weight="bold" font-size="18.4" transform="translate(629.0,0) scale(1.0090,1) translate(-629.0,0)">B</text>
<text x="642.4" y="776.5" font-family='"Liberation Sans", sans-serif' font-weight="bold" font-size="18.4" transform="translate(642.4,0) scale(1.0090,1) translate(-642.4,0)">2</text>
<line x1="528.0" y1="793.8" x2="614.3" y2="793.8" stroke="#000" stroke-width="2.3" stroke-dasharray="49 16.5"/>
<text x="629.0" y="799.0" font-family='"Liberation Sans", sans-serif' font-weight="bold" font-size="18.4" transform="translate(629.0,0) scale(1.0090,1) translate(-629.0,0)">B</text>
<text x="642.4" y="799.0" font-family='"Liberation Sans", sans-serif' font-weight="bold" font-size="18.4" transform="translate(642.4,0) scale(1.0090,1) translate(-642.4,0)">3</text>
<line x1="528.0" y1="817.3" x2="614.3" y2="817.3" stroke="#000" stroke-width="2.3" stroke-dasharray="41 10 5 10.5 5 10"/>
<text x="629.0" y="822.5" font-family='"Liberation Sans", sans-serif' font-weight="bold" font-size="18.4" transform="translate(629.0,0) scale(1.0090,1) translate(-629.0,0)">B</text>
<text x="642.4" y="822.5" font-family='"Liberation Sans", sans-serif' font-weight="bold" font-size="18.4" transform="translate(642.4,0) scale(1.0090,1) translate(-642.4,0)">4</text>
<text x="0" y="0" font-family='"Liberation Serif", serif' font-size="37" transform="translate(315.90,1229.70) scale(1.050,1)">(</text>
<text x="0" y="0" font-family='"Liberation Serif", serif' font-size="37" transform="translate(331.00,1229.70) scale(0.980,1)">b</text>
<text x="0" y="0" font-family='"Liberation Serif", serif' font-size="37" transform="translate(349.45,1229.70) scale(1.050,1)">)</text>
<path d="M79.4,1265.2 L79.4,1741.0 L642.8,1741.0" fill="none" stroke="#000" stroke-width="2.3" stroke-linecap="square"/>
<line x1="79.4" y1="1675.1" x2="91.4" y2="1675.1" stroke="#000" stroke-width="2"/>
<line x1="79.4" y1="1527.9" x2="91.4" y2="1527.9" stroke="#000" stroke-width="2"/>
<line x1="79.4" y1="1380.8" x2="91.4" y2="1380.8" stroke="#000" stroke-width="2"/>
<line x1="79.4" y1="1734.0" x2="86.4" y2="1734.0" stroke="#333" stroke-width="1.5"/>
<line x1="79.4" y1="1704.5" x2="86.4" y2="1704.5" stroke="#333" stroke-width="1.5"/>
<line x1="79.4" y1="1645.7" x2="86.4" y2="1645.7" stroke="#333" stroke-width="1.5"/>
<line x1="79.4" y1="1616.2" x2="86.4" y2="1616.2" stroke="#333" stroke-width="1.5"/>
<line x1="79.4" y1="1586.8" x2="86.4" y2="1586.8" stroke="#333" stroke-width="1.5"/>
<line x1="79.4" y1="1557.4" x2="86.4" y2="1557.4" stroke="#333" stroke-width="1.5"/>
<line x1="79.4" y1="1498.5" x2="86.4" y2="1498.5" stroke="#333" stroke-width="1.5"/>
<line x1="79.4" y1="1469.1" x2="86.4" y2="1469.1" stroke="#333" stroke-width="1.5"/>
<line x1="79.4" y1="1439.7" x2="86.4" y2="1439.7" stroke="#333" stroke-width="1.5"/>
<line x1="79.4" y1="1410.2" x2="86.4" y2="1410.2" stroke="#333" stroke-width="1.5"/>
<line x1="79.4" y1="1351.4" x2="86.4" y2="1351.4" stroke="#333" stroke-width="1.5"/>
<line x1="79.4" y1="1321.9" x2="86.4" y2="1321.9" stroke="#333" stroke-width="1.5"/>
<line x1="79.4" y1="1292.5" x2="86.4" y2="1292.5" stroke="#333" stroke-width="1.5"/>
<line x1="205.6" y1="1741.0" x2="205.6" y2="1728.5" stroke="#000" stroke-width="2"/>
<line x1="360.4" y1="1741.0" x2="360.4" y2="1728.5" stroke="#000" stroke-width="2"/>
<line x1="515.2" y1="1741.0" x2="515.2" y2="1728.5" stroke="#000" stroke-width="2"/>
<line x1="81.8" y1="1741.0" x2="81.8" y2="1734.0" stroke="#333" stroke-width="1.5"/>
<line x1="112.8" y1="1741.0" x2="112.8" y2="1734.0" stroke="#333" stroke-width="1.5"/>
<line x1="143.7" y1="1741.0" x2="143.7" y2="1734.0" stroke="#333" stroke-width="1.5"/>
<line x1="174.7" y1="1741.0" x2="174.7" y2="1734.0" stroke="#333" stroke-width="1.5"/>
<line x1="236.6" y1="1741.0" x2="236.6" y2="1734.0" stroke="#333" stroke-width="1.5"/>
<line x1="267.6" y1="1741.0" x2="267.6" y2="1734.0" stroke="#333" stroke-width="1.5"/>
<line x1="298.5" y1="1741.0" x2="298.5" y2="1734.0" stroke="#333" stroke-width="1.5"/>
<line x1="329.5" y1="1741.0" x2="329.5" y2="1734.0" stroke="#333" stroke-width="1.5"/>
<line x1="391.4" y1="1741.0" x2="391.4" y2="1734.0" stroke="#333" stroke-width="1.5"/>
<line x1="422.4" y1="1741.0" x2="422.4" y2="1734.0" stroke="#333" stroke-width="1.5"/>
<line x1="453.3" y1="1741.0" x2="453.3" y2="1734.0" stroke="#333" stroke-width="1.5"/>
<line x1="484.3" y1="1741.0" x2="484.3" y2="1734.0" stroke="#333" stroke-width="1.5"/>
<line x1="546.2" y1="1741.0" x2="546.2" y2="1734.0" stroke="#333" stroke-width="1.5"/>
<line x1="577.2" y1="1741.0" x2="577.2" y2="1734.0" stroke="#333" stroke-width="1.5"/>
<line x1="608.1" y1="1741.0" x2="608.1" y2="1734.0" stroke="#333" stroke-width="1.5"/>
<line x1="639.1" y1="1741.0" x2="639.1" y2="1734.0" stroke="#333" stroke-width="1.5"/>
<text x="71.2" y="1682.0" font-family='"Liberation Sans", sans-serif' font-size="19.6" text-anchor="end" transform="translate(71.2,0) scale(1.0030,1) translate(-71.2,0)">0</text>
<text x="71.2" y="1534.8" font-family='"Liberation Sans", sans-serif' font-size="19.6" text-anchor="end" transform="translate(71.2,0) scale(1.0030,1) translate(-71.2,0)">0.5</text>
<path d="M763,0 H583 V1147 Q518,1085 412,1023 Q306,961 222,930 V1104 Q373,1175 486,1276 Q599,1377 646,1472 H763 Z" fill="#000" transform="translate(60.27,1387.66) scale(0.00960,-0.00957)"/>
<text x="205.6" y="1760.4" font-family='"Liberation Sans", sans-serif' font-size="19.6" text-anchor="middle" transform="translate(205.6,0) scale(1.0030,1) translate(-205.6,0)">-0.5</text>
<text x="360.4" y="1760.4" font-family='"Liberation Sans", sans-serif' font-size="19.6" text-anchor="middle" transform="translate(360.4,0) scale(1.0030,1) translate(-360.4,0)">0</text>
<text x="515.2" y="1760.4" font-family='"Liberation Sans", sans-serif' font-size="19.6" text-anchor="middle" transform="translate(515.2,0) scale(1.0030,1) translate(-515.2,0)">0.5</text>
<text x="361.7" y="1794.2" font-family='"Liberation Sans", sans-serif' font-weight="bold" font-size="22.4" text-anchor="middle" textLength="374.0" lengthAdjust="spacingAndGlyphs">Radial Position / Cyclone Radius</text>
<text x="0" y="0" font-family='"Liberation Sans", sans-serif' font-weight="bold" font-size="22.4" text-anchor="middle" textLength="301.0" lengthAdjust="spacingAndGlyphs" transform="translate(18.3,1502.8) rotate(-90)">Axial Velocity / Inlet Velocity</text>
<path d="M80.9,1674.7 C81.6,1678.3 83.8,1689.7 85.0,1696.2 C86.2,1702.7 87.2,1709.0 88.0,1713.6 C88.8,1718.2 89.1,1721.7 90.1,1723.8 C91.1,1725.9 92.7,1726.0 94.2,1726.3 C95.7,1726.6 97.8,1726.0 99.3,1725.8 C100.8,1725.6 100.4,1725.9 103.0,1725.3 C105.6,1724.7 110.2,1723.4 114.8,1722.0 C119.4,1720.6 124.4,1719.2 130.5,1716.8 C136.6,1714.4 145.5,1711.3 151.6,1707.8 C157.7,1704.3 162.1,1700.6 167.3,1695.8 C172.6,1691.0 177.8,1684.7 183.1,1678.8 C188.4,1672.9 194.1,1666.5 198.9,1660.4 C203.7,1654.3 207.6,1648.6 212.0,1642.0 C216.4,1635.4 221.4,1628.0 225.1,1621.0 C228.8,1614.0 231.5,1606.5 234.3,1600.0 C237.1,1593.5 238.9,1588.6 241.7,1582.2 C244.5,1575.8 248.0,1568.6 250.9,1561.8 C253.8,1555.0 256.5,1548.1 259.1,1541.3 C261.7,1534.5 264.1,1527.7 266.3,1520.9 C268.5,1514.1 270.7,1507.2 272.4,1500.4 C274.1,1493.6 275.2,1485.7 276.5,1480.0 C277.8,1474.3 278.9,1471.6 280.4,1466.4 C281.9,1461.2 283.9,1454.7 285.7,1448.8 C287.5,1442.9 289.4,1437.4 291.0,1431.3 C292.6,1425.2 293.7,1418.7 295.3,1412.0 C296.9,1405.3 299.3,1397.2 300.6,1391.0 C301.9,1384.8 301.7,1381.3 303.1,1375.0 C304.6,1368.7 307.1,1360.8 309.3,1353.1 C311.5,1345.4 314.0,1337.1 316.3,1328.6 C318.6,1320.1 321.3,1309.9 323.3,1302.3 C325.3,1294.7 326.9,1288.5 328.5,1283.0 C330.1,1277.5 331.1,1272.3 332.9,1269.0 C334.7,1265.7 337.2,1263.5 339.1,1262.9 C341.0,1262.3 342.7,1263.6 344.3,1265.5 C345.9,1267.4 347.2,1270.8 348.7,1274.3 C350.2,1277.8 351.5,1281.5 353.1,1286.5 C354.7,1291.5 356.6,1298.2 358.3,1304.1 C360.1,1309.9 361.9,1315.8 363.6,1321.6 C365.4,1327.4 367.1,1333.3 368.8,1339.1 C370.6,1344.9 372.5,1350.6 374.1,1356.6 C375.7,1362.6 377.4,1369.5 378.5,1375.0 C379.6,1380.5 379.3,1383.4 380.5,1389.3 C381.7,1395.2 383.8,1403.3 385.8,1410.3 C387.9,1417.3 390.8,1425.2 392.8,1431.3 C394.8,1437.4 396.4,1441.5 398.0,1447.1 C399.6,1452.6 400.8,1457.4 402.4,1464.6 C404.0,1471.8 406.4,1484.0 407.7,1490.0 C409.0,1496.0 408.4,1495.2 410.2,1500.4 C412.0,1505.6 415.7,1514.1 418.4,1520.9 C421.1,1527.7 423.7,1534.5 426.6,1541.3 C429.5,1548.1 432.7,1555.0 435.8,1561.8 C438.9,1568.6 442.1,1575.4 445.0,1582.2 C447.9,1589.0 450.6,1596.3 453.1,1602.6 C455.7,1608.9 457.3,1613.8 460.3,1620.0 C463.3,1626.2 467.0,1632.9 471.1,1639.9 C475.2,1646.9 479.9,1655.2 485.0,1662.1 C490.1,1669.0 495.6,1675.5 501.6,1681.5 C507.6,1687.5 514.1,1693.1 521.0,1698.2 C527.9,1703.3 534.9,1708.3 543.2,1712.0 C551.5,1715.7 561.8,1718.1 571.0,1720.4 C580.2,1722.7 590.9,1724.1 598.7,1725.9 C606.6,1727.8 613.5,1730.1 618.1,1731.5 C622.7,1732.9 624.1,1734.7 626.4,1734.2 C628.7,1733.7 630.1,1733.3 632.0,1728.7 C633.9,1724.1 635.9,1715.3 637.5,1706.5 C639.1,1697.7 640.6,1681.3 641.7,1676.0 C642.8,1670.7 643.6,1675.0 644.0,1674.8" fill="none" stroke="#000" stroke-width="2.2" stroke-linejoin="round"/>
<path d="M79.4,1674.7 C80.7,1677.3 84.4,1684.2 87.0,1690.3 C89.6,1696.4 92.7,1704.8 94.9,1711.4 C97.1,1718.0 97.9,1725.8 100.1,1729.7 C102.3,1733.6 105.4,1734.1 108.0,1735.0 C110.6,1735.9 112.8,1735.9 115.9,1735.0 C119.0,1734.1 121.6,1731.9 126.4,1729.7 C131.2,1727.5 138.7,1724.5 144.8,1721.9 C150.9,1719.3 157.1,1717.1 163.2,1714.0 C169.3,1710.9 175.9,1707.5 181.6,1703.5 C187.3,1699.5 191.7,1696.0 197.4,1690.3 C203.1,1684.6 210.1,1676.3 215.8,1669.3 C221.5,1662.3 226.7,1655.3 231.5,1648.3 C236.3,1641.3 240.5,1634.3 244.7,1627.3 C248.9,1620.3 253.2,1611.9 256.5,1606.3 C259.9,1600.7 262.1,1599.0 264.8,1593.4 C267.6,1587.9 270.6,1579.8 273.0,1573.0 C275.4,1566.2 277.1,1559.3 279.1,1552.5 C281.1,1545.7 283.2,1538.9 285.2,1532.1 C287.2,1525.3 289.2,1519.2 291.3,1511.7 C293.4,1504.2 295.9,1492.4 297.5,1487.1 C299.1,1481.8 299.4,1484.1 300.8,1479.6 C302.2,1475.1 304.3,1466.7 306.1,1460.3 C307.9,1453.9 309.6,1447.5 311.4,1441.1 C313.1,1434.7 314.6,1429.1 316.6,1421.8 C318.6,1414.5 321.6,1405.8 323.6,1397.3 C325.7,1388.8 327.2,1381.1 328.9,1371.0 C330.6,1360.9 332.6,1344.7 334.0,1336.6 C335.4,1328.5 336.4,1327.3 337.6,1322.6 C338.8,1317.9 339.9,1313.0 341.1,1308.6 C342.3,1304.2 343.4,1300.1 344.6,1296.3 C345.8,1292.5 346.9,1289.2 348.1,1285.8 C349.3,1282.4 350.6,1278.7 352.0,1276.0 C353.4,1273.3 355.1,1270.8 356.5,1269.5 C357.9,1268.2 359.1,1267.8 360.5,1268.0 C361.9,1268.2 363.3,1268.0 365.0,1271.0 C366.7,1274.0 369.2,1281.3 370.8,1285.8 C372.4,1290.3 372.8,1294.2 374.3,1298.0 C375.8,1301.8 377.8,1304.8 379.6,1308.6 C381.4,1312.4 383.3,1316.7 384.9,1320.8 C386.5,1324.9 387.9,1328.7 389.2,1333.1 C390.5,1337.5 391.5,1340.8 392.7,1347.1 C393.9,1353.4 395.1,1364.1 396.5,1371.0 C397.9,1377.9 399.4,1382.1 400.9,1388.5 C402.4,1394.9 403.8,1403.1 405.3,1409.5 C406.8,1415.9 408.2,1421.2 409.7,1427.1 C411.1,1432.9 412.6,1438.8 414.0,1444.6 C415.4,1450.4 416.9,1456.0 418.4,1462.1 C419.9,1468.2 421.2,1474.5 423.0,1481.0 C424.8,1487.5 427.1,1494.6 429.2,1501.4 C431.2,1508.2 433.3,1515.1 435.3,1521.9 C437.3,1528.7 439.2,1535.5 441.4,1542.3 C443.6,1549.1 445.9,1556.0 448.6,1562.8 C451.3,1569.6 454.9,1576.4 457.8,1583.2 C460.7,1590.0 463.0,1597.7 465.9,1603.6 C468.8,1609.5 471.2,1612.0 475.1,1618.7 C479.0,1625.4 484.4,1635.8 489.0,1643.7 C493.6,1651.6 497.8,1659.0 502.9,1665.9 C508.0,1672.8 513.5,1679.8 519.5,1685.3 C525.5,1690.8 531.5,1695.0 538.9,1699.2 C546.3,1703.4 555.6,1707.1 563.9,1710.3 C572.2,1713.5 581.0,1716.3 588.9,1718.6 C596.8,1720.9 606.0,1721.8 611.1,1724.1 C616.2,1726.4 617.2,1731.3 619.4,1732.5 C621.6,1733.7 622.6,1733.8 624.5,1731.0 C626.4,1728.2 628.4,1722.0 630.5,1715.8 C632.6,1709.6 635.3,1700.5 637.4,1693.6 C639.5,1686.7 642.1,1677.8 643.1,1674.6" fill="none" stroke="#000" stroke-width="2.2" stroke-linejoin="round" stroke-dasharray="4.5 6.2"/>
<path d="M80.9,1674.7 C82.2,1677.1 86.1,1683.1 88.8,1689.0 C91.5,1694.8 94.8,1703.2 97.1,1709.7 C99.4,1716.2 100.3,1723.9 102.5,1727.8 C104.8,1731.6 107.9,1732.1 110.5,1733.0 C113.1,1733.9 115.3,1733.9 118.4,1733.0 C121.5,1732.1 124.1,1729.9 128.9,1727.7 C133.7,1725.5 141.2,1722.5 147.3,1719.9 C153.4,1717.3 159.6,1715.1 165.7,1712.0 C171.8,1708.9 178.4,1705.5 184.1,1701.5 C189.8,1697.5 194.2,1694.0 199.9,1688.3 C205.6,1682.6 212.6,1674.3 218.3,1667.3 C224.0,1660.3 229.2,1653.3 234.0,1646.3 C238.8,1639.3 243.0,1632.3 247.2,1625.3 C251.4,1618.3 255.7,1609.9 259.0,1604.3 C262.4,1598.7 264.6,1597.0 267.3,1591.4 C270.1,1585.9 273.1,1577.8 275.5,1571.0 C277.9,1564.2 279.6,1557.3 281.6,1550.5 C283.6,1543.7 285.7,1536.9 287.7,1530.1 C289.7,1523.3 291.8,1517.2 293.8,1509.7 C295.9,1502.2 298.4,1490.4 300.0,1485.1 C301.6,1479.8 301.9,1482.1 303.3,1477.6 C304.7,1473.1 306.8,1464.7 308.6,1458.3 C310.4,1451.9 312.1,1445.5 313.9,1439.1 C315.6,1432.7 317.1,1427.1 319.1,1419.8 C321.1,1412.5 324.1,1403.8 326.1,1395.3 C328.2,1386.8 329.7,1379.1 331.4,1369.0 C333.1,1358.9 335.1,1342.7 336.5,1334.6 C337.9,1326.5 338.9,1325.3 340.1,1320.6 C341.3,1315.9 342.4,1311.0 343.6,1306.6 C344.8,1302.2 345.9,1298.1 347.1,1294.3 C348.3,1290.5 349.3,1287.2 350.6,1283.8 C351.9,1280.4 353.5,1276.7 355.2,1274.0 C356.8,1271.3 358.8,1268.8 360.5,1267.5 C362.2,1266.2 363.6,1265.8 365.2,1266.0 C366.9,1266.2 368.6,1266.0 370.6,1269.0 C372.6,1272.0 375.7,1279.3 377.5,1283.8 C379.3,1288.3 379.8,1292.2 381.3,1296.0 C382.8,1299.8 384.8,1302.8 386.6,1306.6 C388.4,1310.4 390.3,1314.7 391.9,1318.8 C393.5,1322.9 394.9,1326.7 396.2,1331.1 C397.5,1335.5 398.5,1338.8 399.7,1345.1 C400.9,1351.4 402.1,1362.1 403.5,1369.0 C404.9,1375.9 406.4,1380.1 407.9,1386.5 C409.4,1392.9 410.8,1401.1 412.3,1407.5 C413.8,1413.9 415.2,1419.2 416.7,1425.1 C418.1,1430.9 419.6,1436.8 421.0,1442.6 C422.4,1448.4 423.9,1454.0 425.4,1460.1 C426.9,1466.2 428.2,1472.5 430.0,1479.0 C431.8,1485.5 434.1,1492.6 436.2,1499.4 C438.2,1506.2 440.3,1513.1 442.3,1519.9 C444.3,1526.7 446.2,1533.5 448.4,1540.3 C450.6,1547.1 452.9,1554.0 455.6,1560.8 C458.3,1567.6 461.9,1574.4 464.8,1581.2 C467.7,1588.0 470.0,1595.7 472.9,1601.6 C475.8,1607.5 478.2,1610.0 482.1,1616.7 C486.0,1623.4 491.4,1633.8 496.0,1641.7 C500.6,1649.6 504.8,1657.0 509.9,1663.9 C515.0,1670.8 520.5,1677.8 526.5,1683.3 C532.5,1688.8 538.5,1693.0 545.9,1697.2 C553.3,1701.4 562.6,1705.1 570.9,1708.3 C579.2,1711.5 588.0,1714.3 595.9,1716.6 C603.8,1718.9 613.0,1719.8 618.1,1722.1 C623.2,1724.4 624.4,1729.3 626.4,1730.5 C628.4,1731.7 628.9,1731.9 630.3,1729.2 C631.7,1726.5 633.2,1720.4 634.8,1714.3 C636.4,1708.2 638.6,1699.0 640.0,1692.4 C641.3,1685.8 642.6,1677.6 643.1,1674.6" fill="none" stroke="#000" stroke-width="2.2" stroke-linejoin="round" stroke-dasharray="21 8 5 8.5"/>
<path d="M81.9,1674.7 C83.2,1676.6 86.9,1680.8 89.5,1686.3 C92.1,1691.8 95.2,1700.8 97.4,1707.4 C99.6,1714.0 100.4,1721.8 102.6,1725.7 C104.8,1729.6 107.9,1730.1 110.5,1731.0 C113.1,1731.9 115.3,1731.9 118.4,1731.0 C121.5,1730.1 124.1,1727.9 128.9,1725.7 C133.7,1723.5 141.2,1720.5 147.3,1717.9 C153.4,1715.3 159.6,1713.1 165.7,1710.0 C171.8,1706.9 178.4,1703.5 184.1,1699.5 C189.8,1695.5 194.2,1692.0 199.9,1686.3 C205.6,1680.6 212.6,1672.3 218.3,1665.3 C224.0,1658.3 229.2,1651.3 234.0,1644.3 C238.8,1637.3 243.0,1630.3 247.2,1623.3 C251.4,1616.3 255.7,1607.9 259.0,1602.3 C262.4,1596.7 264.6,1595.0 267.3,1589.4 C270.1,1583.9 273.1,1575.8 275.5,1569.0 C277.9,1562.2 279.6,1555.3 281.6,1548.5 C283.6,1541.7 285.7,1534.9 287.7,1528.1 C289.7,1521.3 291.8,1515.2 293.8,1507.7 C295.9,1500.2 298.4,1488.4 300.0,1483.1 C301.6,1477.8 301.9,1480.1 303.3,1475.6 C304.7,1471.1 306.8,1462.7 308.6,1456.3 C310.4,1449.9 312.1,1443.5 313.9,1437.1 C315.6,1430.7 317.1,1425.1 319.1,1417.8 C321.1,1410.5 324.1,1401.8 326.1,1393.3 C328.2,1384.8 329.7,1377.1 331.4,1367.0 C333.1,1356.9 335.1,1340.7 336.5,1332.6 C337.9,1324.5 338.9,1323.3 340.1,1318.6 C341.3,1313.9 342.4,1309.0 343.6,1304.6 C344.8,1300.2 345.9,1296.1 347.1,1292.3 C348.3,1288.5 349.4,1285.2 350.6,1281.8 C351.8,1278.4 353.1,1274.7 354.5,1272.0 C355.9,1269.3 357.6,1266.8 359.0,1265.5 C360.4,1264.2 361.6,1263.8 363.0,1264.0 C364.4,1264.2 365.8,1264.0 367.5,1267.0 C369.2,1270.0 371.8,1277.3 373.3,1281.8 C374.9,1286.3 375.3,1290.2 376.8,1294.0 C378.3,1297.8 380.3,1300.8 382.1,1304.6 C383.9,1308.4 385.8,1312.7 387.4,1316.8 C389.0,1320.9 390.4,1324.7 391.7,1329.1 C393.0,1333.5 394.0,1336.8 395.2,1343.1 C396.4,1349.4 397.6,1360.1 399.0,1367.0 C400.4,1373.9 401.9,1378.1 403.4,1384.5 C404.9,1390.9 406.3,1399.1 407.8,1405.5 C409.3,1411.9 410.8,1417.2 412.2,1423.1 C413.6,1428.9 415.1,1434.8 416.5,1440.6 C417.9,1446.4 419.4,1452.0 420.9,1458.1 C422.4,1464.2 423.7,1470.5 425.5,1477.0 C427.3,1483.5 429.6,1490.6 431.7,1497.4 C433.8,1504.2 435.8,1511.1 437.8,1517.9 C439.8,1524.7 441.7,1531.5 443.9,1538.3 C446.1,1545.1 448.4,1552.0 451.1,1558.8 C453.8,1565.6 457.4,1572.4 460.3,1579.2 C463.2,1586.0 465.5,1593.7 468.4,1599.6 C471.3,1605.5 473.8,1608.0 477.6,1614.7 C481.5,1621.4 486.9,1631.8 491.5,1639.7 C496.1,1647.6 500.3,1655.0 505.4,1661.9 C510.5,1668.8 516.0,1675.8 522.0,1681.3 C528.0,1686.8 534.0,1691.0 541.4,1695.2 C548.8,1699.4 558.1,1703.1 566.4,1706.3 C574.7,1709.5 583.5,1712.3 591.4,1714.6 C599.3,1716.9 608.5,1717.8 613.6,1720.1 C618.7,1722.4 619.7,1727.3 621.9,1728.5 C624.1,1729.7 625.1,1729.8 627.0,1727.0 C628.9,1724.2 630.9,1718.0 633.0,1711.8 C635.1,1705.6 638.2,1695.8 639.9,1689.6 C641.6,1683.4 642.6,1677.1 643.1,1674.6" fill="none" stroke="#000" stroke-width="2.2" stroke-linejoin="round" stroke-dasharray="48 16.3"/>
<path d="M80.9,1674.7 C82.2,1677.1 85.9,1683.3 88.5,1689.3 C91.1,1695.2 94.2,1703.8 96.4,1710.4 C98.6,1717.0 99.4,1724.8 101.6,1728.7 C103.8,1732.6 106.9,1733.1 109.5,1734.0 C112.1,1734.9 114.3,1734.9 117.4,1734.0 C120.5,1733.1 123.1,1730.9 127.9,1728.7 C132.7,1726.5 140.2,1723.5 146.3,1720.9 C152.4,1718.3 158.6,1716.1 164.7,1713.0 C170.8,1709.9 177.4,1706.5 183.1,1702.5 C188.8,1698.5 193.2,1695.0 198.9,1689.3 C204.6,1683.6 211.6,1675.3 217.3,1668.3 C223.0,1661.3 228.2,1654.3 233.0,1647.3 C237.8,1640.3 242.0,1633.3 246.2,1626.3 C250.4,1619.3 254.7,1610.9 258.0,1605.3 C261.4,1599.7 263.6,1598.0 266.3,1592.4 C269.1,1586.9 272.1,1578.8 274.5,1572.0 C276.9,1565.2 278.6,1558.3 280.6,1551.5 C282.6,1544.7 284.7,1537.9 286.7,1531.1 C288.7,1524.3 290.8,1518.2 292.8,1510.7 C294.9,1503.2 297.4,1491.4 299.0,1486.1 C300.6,1480.8 300.9,1483.1 302.3,1478.6 C303.7,1474.1 305.8,1465.7 307.6,1459.3 C309.4,1452.9 311.1,1446.5 312.9,1440.1 C314.6,1433.7 316.1,1428.1 318.1,1420.8 C320.1,1413.5 323.1,1404.8 325.1,1396.3 C327.2,1387.8 328.7,1380.1 330.4,1370.0 C332.1,1359.9 334.1,1343.7 335.5,1335.6 C336.9,1327.5 337.9,1326.3 339.1,1321.6 C340.3,1316.9 341.4,1312.0 342.6,1307.6 C343.8,1303.2 344.9,1299.1 346.1,1295.3 C347.3,1291.5 348.4,1288.2 349.6,1284.8 C350.8,1281.4 352.1,1277.7 353.5,1275.0 C354.9,1272.3 356.6,1269.8 358.0,1268.5 C359.4,1267.2 360.6,1266.8 362.0,1267.0 C363.4,1267.2 364.8,1267.0 366.5,1270.0 C368.2,1273.0 370.8,1280.3 372.3,1284.8 C373.9,1289.3 374.3,1293.2 375.8,1297.0 C377.3,1300.8 379.3,1303.8 381.1,1307.6 C382.9,1311.4 384.8,1315.7 386.4,1319.8 C388.0,1323.9 389.4,1327.7 390.7,1332.1 C392.0,1336.5 393.0,1339.8 394.2,1346.1 C395.4,1352.4 396.6,1363.1 398.0,1370.0 C399.4,1376.9 400.9,1381.1 402.4,1387.5 C403.9,1393.9 405.3,1402.1 406.8,1408.5 C408.3,1414.9 409.8,1420.2 411.2,1426.1 C412.6,1431.9 414.1,1437.8 415.5,1443.6 C416.9,1449.4 418.4,1455.0 419.9,1461.1 C421.4,1467.2 422.7,1473.5 424.5,1480.0 C426.3,1486.5 428.6,1493.6 430.7,1500.4 C432.8,1507.2 434.8,1514.1 436.8,1520.9 C438.8,1527.7 440.7,1534.5 442.9,1541.3 C445.1,1548.1 447.4,1555.0 450.1,1561.8 C452.8,1568.6 456.4,1575.4 459.3,1582.2 C462.2,1589.0 464.5,1596.7 467.4,1602.6 C470.3,1608.5 472.8,1611.0 476.6,1617.7 C480.5,1624.4 485.9,1634.8 490.5,1642.7 C495.1,1650.6 499.3,1658.0 504.4,1664.9 C509.5,1671.8 515.0,1678.8 521.0,1684.3 C527.0,1689.8 533.0,1694.0 540.4,1698.2 C547.8,1702.4 557.1,1706.1 565.4,1709.3 C573.7,1712.5 582.5,1715.3 590.4,1717.6 C598.3,1719.9 607.5,1720.8 612.6,1723.1 C617.7,1725.4 618.7,1730.3 620.9,1731.5 C623.1,1732.7 624.1,1732.8 626.0,1730.0 C627.9,1727.2 629.9,1721.0 632.0,1714.8 C634.1,1708.6 637.0,1699.3 638.9,1692.6 C640.8,1685.9 642.4,1677.6 643.1,1674.6" fill="none" stroke="#000" stroke-width="2.2" stroke-linejoin="round" stroke-dasharray="42.6 11 5.4 10.4 5.4 11"/>
<line x1="553.0" y1="1342.0" x2="643.1" y2="1342.0" stroke="#000" stroke-width="2.3"/>
<text x="657.6" y="1347.2" font-family='"Liberation Sans", sans-serif' font-weight="bold" font-size="18.4" transform="translate(657.6,0) scale(1.0630,1) translate(-657.6,0)">A</text>
<text x="671.7" y="1347.2" font-family='"Liberation Sans", sans-serif' font-weight="bold" font-size="18.4" transform="translate(671.7,0) scale(1.0630,1) translate(-671.7,0)">0</text>
<line x1="553.0" y1="1364.6" x2="643.1" y2="1364.6" stroke="#000" stroke-width="2.3" stroke-dasharray="4.5 6.2"/>
<text x="657.6" y="1369.8" font-family='"Liberation Sans", sans-serif' font-weight="bold" font-size="18.4" transform="translate(657.6,0) scale(1.0630,1) translate(-657.6,0)">C</text>
<path d="M815,0 H534 V1059 Q380,915 171,846 V1101 Q281,1137 410,1237 Q539,1337 587,1466 H815 Z" fill="#000" transform="translate(671.73,1369.80) scale(0.00955,-0.00898)"/>
<line x1="553.0" y1="1387.2" x2="643.1" y2="1387.2" stroke="#000" stroke-width="2.3" stroke-dasharray="21 8 5 8.5"/>
<text x="657.6" y="1392.4" font-family='"Liberation Sans", sans-serif' font-weight="bold" font-size="18.4" transform="translate(657.6,0) scale(1.0630,1) translate(-657.6,0)">C</text>
<text x="671.7" y="1392.4" font-family='"Liberation Sans", sans-serif' font-weight="bold" font-size="18.4" transform="translate(671.7,0) scale(1.0630,1) translate(-671.7,0)">2</text>
<line x1="553.0" y1="1409.4" x2="643.1" y2="1409.4" stroke="#000" stroke-width="2.3" stroke-dasharray="48 16.3"/>
<text x="657.6" y="1414.6" font-family='"Liberation Sans", sans-serif' font-weight="bold" font-size="18.4" transform="translate(657.6,0) scale(1.0630,1) translate(-657.6,0)">C</text>
<text x="671.7" y="1414.6" font-family='"Liberation Sans", sans-serif' font-weight="bold" font-size="18.4" transform="translate(671.7,0) scale(1.0630,1) translate(-671.7,0)">3</text>
<line x1="553.0" y1="1431.9" x2="643.1" y2="1431.9" stroke="#000" stroke-width="2.3" stroke-dasharray="42.6 11 5.4 10.4 5.4 11"/>
<text x="657.6" y="1437.1" font-family='"Liberation Sans", sans-serif' font-weight="bold" font-size="18.4" transform="translate(657.6,0) scale(1.0630,1) translate(-657.6,0)">C</text>
<text x="671.7" y="1437.1" font-family='"Liberation Sans", sans-serif' font-weight="bold" font-size="18.4" transform="translate(671.7,0) scale(1.0630,1) translate(-671.7,0)">4</text>
<text x="0" y="0" font-family='"Liberation Serif", serif' font-size="37" transform="translate(315.90,1840.00) scale(1.050,1)">(</text>
<text x="0" y="0" font-family='"Liberation Serif", serif' font-size="37" transform="translate(330.20,1840.00) scale(0.770,1)">C</text>
<text x="0" y="0" font-family='"Liberation Serif", serif' font-size="37" transform="translate(349.45,1840.00) scale(1.050,1)">)</text>
</svg>
</body></html>
